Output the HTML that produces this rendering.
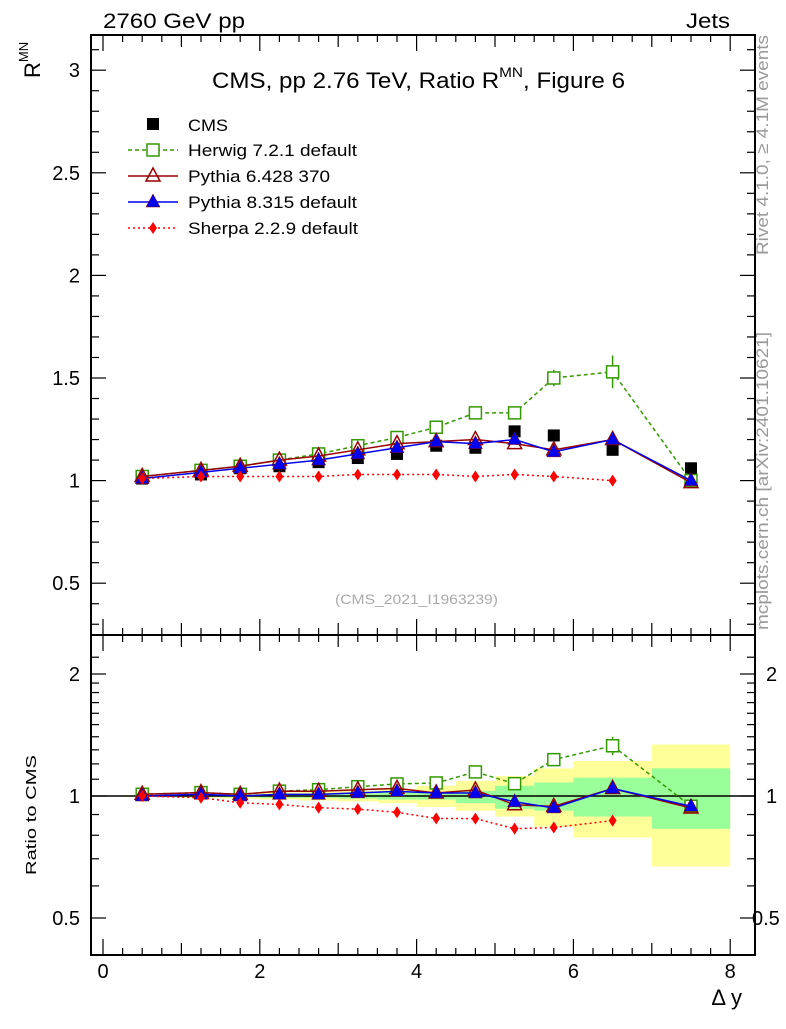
<!DOCTYPE html>
<html><head><meta charset="utf-8"><style>
body{margin:0;background:#fff;}
svg{font-family:"Liberation Sans",sans-serif;}
</style></head><body>
<svg id="c" width="786" height="1024" xmlns="http://www.w3.org/2000/svg"></svg>
<script>
const xs=[0.5,1.25,1.75,2.25,2.75,3.25,3.75,4.25,4.75,5.25,5.75,6.5,7.5];
const cms=[1.01,1.03,1.06,1.07,1.09,1.11,1.13,1.17,1.16,1.24,1.22,1.15,1.06];
const herwig=[1.02,1.05,1.07,1.10,1.13,1.17,1.21,1.26,1.33,1.33,1.50,1.53,1.00];
const herwigErr=[0,0,0,0,0,0,0,0,0,0.01,0.04,0.08,0];
const pythia6=[1.02,1.05,1.07,1.10,1.12,1.15,1.18,1.19,1.20,1.18,1.15,1.20,0.99];
const pythia8=[1.01,1.04,1.06,1.08,1.10,1.13,1.16,1.19,1.18,1.20,1.14,1.20,1.00];
const sherpa=[1.01,1.02,1.02,1.02,1.02,1.03,1.03,1.03,1.02,1.03,1.02,1.00];
const binEdges=[0.25,1,1.5,2,2.5,3,3.5,4,4.5,5,5.5,6,7,8];
const yelLo=[0.995,0.99,0.985,0.98,0.975,0.97,0.96,0.94,0.92,0.89,0.84,0.79,0.67];
const yelHi=[1.005,1.01,1.015,1.02,1.025,1.03,1.04,1.06,1.09,1.12,1.17,1.22,1.34];
const grnLo=[0.998,0.995,0.993,0.99,0.99,0.985,0.98,0.98,0.96,0.93,0.92,0.89,0.83];
const grnHi=[1.002,1.005,1.007,1.01,1.01,1.015,1.02,1.02,1.03,1.06,1.08,1.11,1.17];
const mainTicks=[0.5,1,1.5,2,2.5,3];
const xTicks=[0,2,4,6,8];

const S=document.getElementById('c');const NS='http://www.w3.org/2000/svg';
function el(t,a,txt,par){const e=document.createElementNS(NS,t);for(const k in a)e.setAttribute(k,a[k]);if(txt!==undefined)e.textContent=txt;(par||S).appendChild(e);return e;}
const L=91,R=755,T=35,M=635,B=955;
const X=v=>103+v*78.4;
const Y=v=>480.6-(v-1)*205.2;
const YR=v=>796-Math.log2(v)*122;

for(let i=0;i<binEdges.length-1;i++){
 let r=el('rect',{x:X(binEdges[i]),y:YR(yelHi[i]),width:X(binEdges[i+1])-X(binEdges[i]),height:YR(yelLo[i])-YR(yelHi[i]),fill:'#ffff99'});
 
 let g=el('rect',{x:X(binEdges[i]),y:YR(grnHi[i]),width:X(binEdges[i+1])-X(binEdges[i]),height:YR(grnLo[i])-YR(grnHi[i]),fill:'#99ff99'});
 
}
el('line',{x1:L,x2:R,y1:YR(1),y2:YR(1),stroke:'#000','stroke-width':1.5});

el('rect',{x:L,y:T,width:R-L,height:M-T,fill:'none',stroke:'#000','stroke-width':2,});
el('rect',{x:L,y:M,width:R-L,height:B-M,fill:'none',stroke:'#000','stroke-width':2,});

for(let v=0.3;v<=3.15;v+=0.1){const y=Y(v);const maj=Math.abs(v*2-Math.round(v*2))<0.01;const l=maj?15:8;
 el('line',{x1:L,x2:L+l,y1:y,y2:y,stroke:'#000','stroke-width':1.2});el('line',{x1:R,x2:R-l,y1:y,y2:y,stroke:'#000','stroke-width':1.2});}
mainTicks.forEach(v=>{const t=el('text',{x:80,y:Y(v)+7,'text-anchor':'end','font-size':20},String(v));});
const rt=[0.5,0.6,0.7,0.8,0.9,1,1.1,1.2,1.3,1.4,1.5,1.6,1.7,1.8,1.9,2,2.2];
rt.forEach(v=>{const y=YR(v);const maj=[0.5,1,2].includes(v);const l=maj?15:8;
 el('line',{x1:L,x2:L+l,y1:y,y2:y,stroke:'#000','stroke-width':1.2});el('line',{x1:R,x2:R-l,y1:y,y2:y,stroke:'#000','stroke-width':1.2});});
[0.5,1,2].forEach(v=>{el('text',{x:80,y:YR(v)+7,'text-anchor':'end','font-size':20},String(v));el('text',{x:v==0.5?752:766,y:YR(v)+7,'font-size':20},String(v));});
for(let v=0;v<=8.01;v+=0.25){const x=X(v);const maj=Math.abs(v-Math.round(v))<0.01&&Math.round(v)%2==0;const mid=Math.abs(v-Math.round(v))<0.01;const l=maj?16:(mid?12:7);
 [[T,1],[M,1],[M,-1],[B,-1]].forEach(([y0,d])=>el('line',{x1:x,x2:x,y1:y0,y2:y0+d*l,stroke:'#000','stroke-width':1.2}));}
xTicks.forEach(v=>{const t=el('text',{x:X(v),y:978,'text-anchor':'middle','font-size':20},String(v));});

const LA='spacingAndGlyphs';
el('text',{x:103,y:28,'font-size':21,textLength:142,lengthAdjust:LA,},'2760 GeV pp');
el('text',{x:686,y:28,'font-size':21,textLength:44,lengthAdjust:LA,},'Jets');
const tt=el('text',{x:212,y:88,'font-size':22,textLength:413,lengthAdjust:LA,});
el('tspan',{},'CMS, pp 2.76 TeV, Ratio R',tt);el('tspan',{'font-size':14,dy:-11},'MN',tt);el('tspan',{dy:11},', Figure 6',tt);
const yl=el('text',{transform:'translate(40,78) rotate(-90)','font-size':22,});
el('tspan',{},'R',yl);el('tspan',{'font-size':13,dy:-12},'MN',yl);
el('text',{transform:'translate(36,875) rotate(-90)','font-size':15,textLength:120,lengthAdjust:LA,},'Ratio to CMS');
el('text',{x:742,y:1005,'font-size':22,'text-anchor':'end',},'Δ y');
el('text',{x:335,y:604,'font-size':14,fill:'#aaa',textLength:163,lengthAdjust:LA,},'(CMS_2021_I1963239)');
el('text',{transform:'translate(768,255) rotate(-90)','font-size':17,fill:'#999','textLength':220,lengthAdjust:LA},'Rivet 4.1.0, ≥ 4.1M events');
el('text',{transform:'translate(768,630) rotate(-90)','font-size':17,fill:'#999','textLength':298,lengthAdjust:LA},'mcplots.cern.ch [arXiv:2401.10621]');

function mk(type,x,y,c){
 if(type=='sq')return el('rect',{x:x-6,y:y-6,width:12,height:12,fill:'#000'});
 if(type=='osq')return el('rect',{x:x-6,y:y-6,width:12,height:12,fill:'#fff',stroke:c,'stroke-width':1.5});
 if(type=='otri')return el('polygon',{points:`${x},${y-8} ${x-7},${y+5} ${x+7},${y+5}`,fill:'none',stroke:c,'stroke-width':1.5});
 if(type=='tri')return el('polygon',{points:`${x},${y-8} ${x-7},${y+5} ${x+7},${y+5}`,fill:c,stroke:'#800','stroke-width':0.5});
 if(type=='dia')return el('polygon',{points:`${x},${y-6} ${x-4},${y} ${x},${y+6} ${x+4},${y}`,fill:c});
}
const series=[
 {n:'herwig',d:herwig,c:'#339900',m:'osq',dash:'4,3',lab:'Herwig 7.2.1 default',w:169},
 {n:'pythia6',d:pythia6,c:'#990000',m:'otri',dash:'',lab:'Pythia 6.428 370',w:142},
 {n:'pythia8',d:pythia8,c:'#0000ee',m:'tri',dash:'',lab:'Pythia 8.315 default',w:169},
 {n:'sherpa',d:sherpa,c:'#ff0000',m:'dia',dash:'2,3',lab:'Sherpa 2.2.9 default',w:170}];
xs.forEach((x,i)=>{if(herwigErr[i]>0){el('line',{x1:X(x),x2:X(x),y1:Y(herwig[i]+herwigErr[i]),y2:Y(herwig[i]-herwigErr[i]),stroke:'#339900','stroke-width':1.5});
 const r=herwig[i]/cms[i];el('line',{x1:X(x),x2:X(x),y1:YR(r*(1+herwigErr[i]/herwig[i])),y2:YR(r*(1-herwigErr[i]/herwig[i])),stroke:'#339900','stroke-width':1.5});}});
xs.forEach((x,i)=>{const m=mk('sq',X(x),Y(cms[i]));});
series.forEach(s=>{
 const pts=s.d.map((v,i)=>X(xs[i])+','+Y(v)).join(' ');
 const pl=el('polyline',{points:pts,fill:'none',stroke:s.c,'stroke-width':1.5,'stroke-dasharray':s.dash});
 
 const rp=s.d.map((v,i)=>X(xs[i])+','+YR(v/cms[i])).join(' ');
 const rl=el('polyline',{points:rp,fill:'none',stroke:s.c,'stroke-width':1.5,'stroke-dasharray':s.dash});
 
 s.d.forEach((v,i)=>{const a=mk(s.m,X(xs[i]),Y(v),s.c);
  const b=mk(s.m,X(xs[i]),YR(v/cms[i]),s.c);});
});
mk('sq',153,124);el('text',{x:188,y:131,'font-size':17,textLength:40,lengthAdjust:LA,},'CMS');
series.forEach((s,i)=>{const y=150+i*26;
 el('line',{x1:128,x2:178,y1:y,y2:y,stroke:s.c,'stroke-width':1.5,'stroke-dasharray':s.dash});
 mk(s.m,153,y,s.c);
 const t=el('text',{x:188,y:y+6,'font-size':17,textLength:s.w,lengthAdjust:LA},s.lab);});
</script>
</body></html>
